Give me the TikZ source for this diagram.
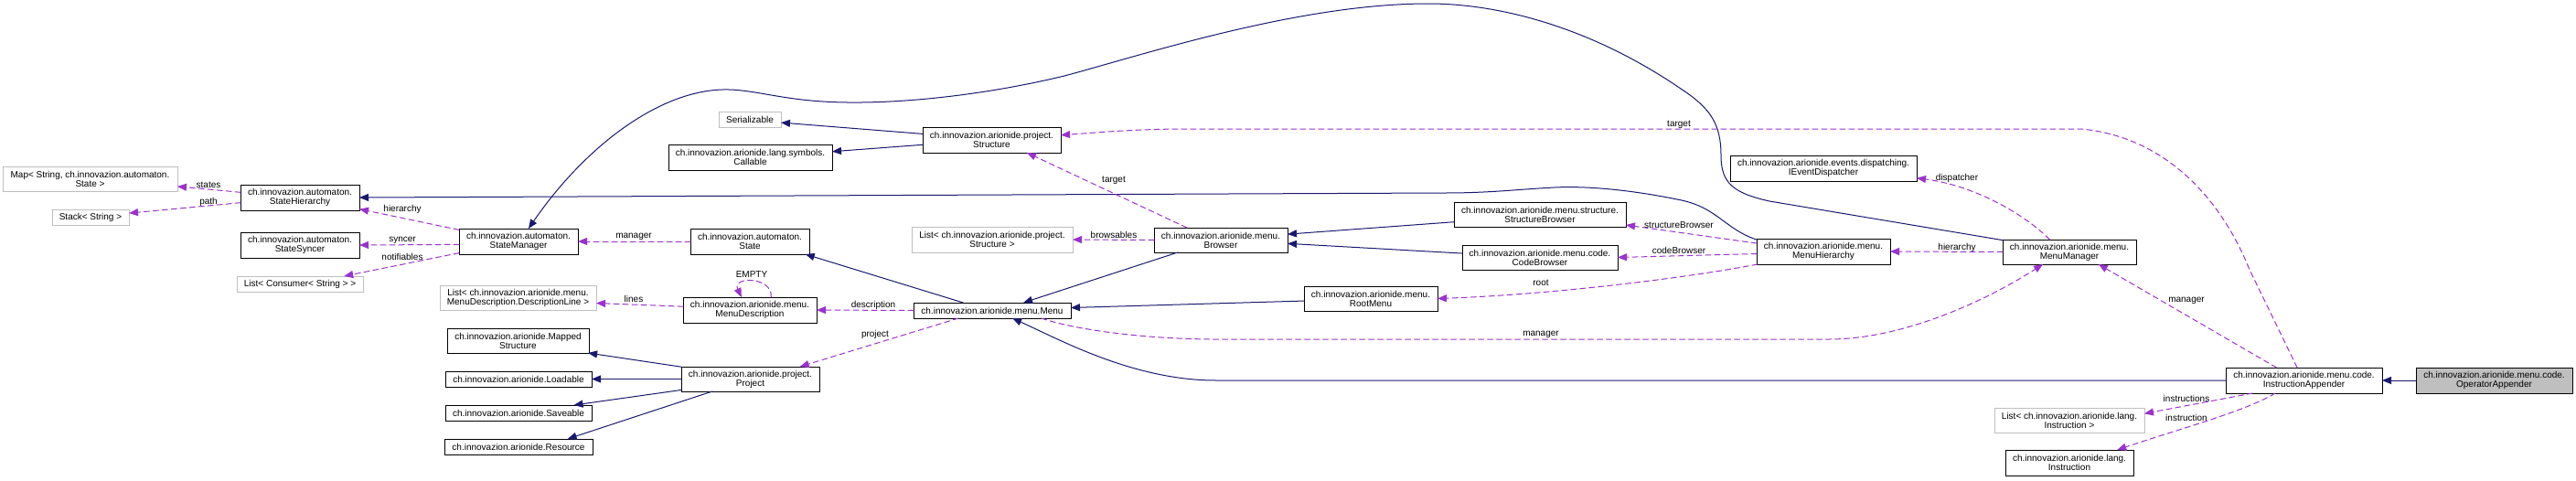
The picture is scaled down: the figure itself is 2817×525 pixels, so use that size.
\documentclass[tikz,border=0pt]{standalone}
\usepackage{fontspec}
\setmainfont{Liberation Sans}
\usepackage{tikz}
\usetikzlibrary{arrows.meta}
\usepackage{xcolor}
\definecolor{edgeblue}{HTML}{191970}
\definecolor{edgepurple}{HTML}{9A32CD}
\definecolor{boxgray}{HTML}{BFBFBF}

\begin{document}
\begin{tikzpicture}[x=0.5pt,y=-0.5pt,>={Triangle[length=5pt,width=4pt]},font=\fontsize{5}{5}\selectfont,line cap=round,
  cls/.style={draw=black,line width=0.5pt,fill=white,align=center,inner sep=0pt,outer sep=0pt},
  extcls/.style={cls,draw=boxgray},
  inh/.style={->,draw=edgeblue,line width=0.5pt},
  dep/.style={->,draw=edgepurple,line width=0.5pt,dash pattern=on 3pt off 2pt},
  lbl/.style={inner sep=0pt,text=black}]
\useasboundingbox (0,0) rectangle (2817,525);
\node[extcls,minimum width=95.5pt,minimum height=13.5pt] (map) at (98.5,195.5) {Map< String, ch.innovazion.automaton.\\State >};
\node[extcls,minimum width=42pt,minimum height=8.5pt] (stack) at (99,237.5) {Stack< String >};
\node[cls,minimum width=65pt,minimum height=14pt] (sh) at (328,216) {ch.innovazion.automaton.\\StateHierarchy};
\node[cls,minimum width=65pt,minimum height=14pt] (syncer) at (328,268) {ch.innovazion.automaton.\\StateSyncer};
\node[extcls,minimum width=69pt,minimum height=8.5pt] (consumers) at (328,310.5) {List< Consumer< String > >};
\node[cls,minimum width=65pt,minimum height=14pt] (sm) at (567,264) {ch.innovazion.automaton.\\StateManager};
\node[cls,minimum width=65pt,minimum height=14pt] (state) at (820,264) {ch.innovazion.automaton.\\State};
\node[cls,minimum width=89.5pt,minimum height=14pt] (callable) at (820.5,172) {ch.innovazion.arionide.lang.symbols.\\Callable};
\node[extcls,minimum width=34pt,minimum height=8.5pt] (serial) at (820,130.5) {Serializable};
\node[extcls,minimum width=85.5pt,minimum height=13.5pt] (lines) at (566.5,325.5) {List< ch.innovazion.arionide.menu.\\MenuDescription.DescriptionLine >};
\node[cls,minimum width=73pt,minimum height=14pt] (mdesc) at (820,339) {ch.innovazion.arionide.menu.\\MenuDescription};
\node[cls,minimum width=77.5pt,minimum height=13.5pt] (mapped) at (566.5,372.5) {ch.innovazion.arionide.Mapped\\Structure};
\node[cls,minimum width=80pt,minimum height=8.5pt] (loadable) at (567,414.5) {ch.innovazion.arionide.Loadable};
\node[cls,minimum width=80pt,minimum height=8.5pt] (saveable) at (567,451.5) {ch.innovazion.arionide.Saveable};
\node[cls,minimum width=81pt,minimum height=8.5pt] (resource) at (567,488.5) {ch.innovazion.arionide.Resource};
\node[cls,minimum width=75.5pt,minimum height=13.5pt] (project) at (820.5,414.5) {ch.innovazion.arionide.project.\\Project};
\node[cls,minimum width=75.5pt,minimum height=14pt] (structure) at (1084.5,153) {ch.innovazion.arionide.project.\\Structure};
\node[extcls,minimum width=88pt,minimum height=14pt] (structs) at (1085,262) {List< ch.innovazion.arionide.project.\\Structure >};
\node[cls,minimum width=86pt,minimum height=8.5pt] (menu) at (1085,339.5) {ch.innovazion.arionide.menu.Menu};
\node[cls,minimum width=73pt,minimum height=13.5pt] (browser) at (1335,262.5) {ch.innovazion.arionide.menu.\\Browser};
\node[cls,minimum width=73pt,minimum height=13.5pt] (rootmenu) at (1499,326.5) {ch.innovazion.arionide.menu.\\RootMenu};
\node[cls,minimum width=94pt,minimum height=13.5pt] (sbrowser) at (1684,234.5) {ch.innovazion.arionide.menu.structure.\\StructureBrowser};
\node[cls,minimum width=85pt,minimum height=13.5pt] (cbrowser) at (1684,281.5) {ch.innovazion.arionide.menu.code.\\CodeBrowser};
\node[cls,minimum width=73pt,minimum height=14pt] (mhier) at (1994,275) {ch.innovazion.arionide.menu.\\MenuHierarchy};
\node[cls,minimum width=102pt,minimum height=14pt] (dispatcher) at (1994,184) {ch.innovazion.arionide.events.dispatching.\\IEventDispatcher};
\node[cls,minimum width=73pt,minimum height=13.5pt] (mmanager) at (2263,275.5) {ch.innovazion.arionide.menu.\\MenuManager};
\node[extcls,minimum width=82pt,minimum height=13.5pt] (instrs) at (2263,459.5) {List< ch.innovazion.arionide.lang.\\Instruction >};
\node[cls,minimum width=70pt,minimum height=14pt] (instr) at (2263,506) {ch.innovazion.arionide.lang.\\Instruction};
\node[cls,minimum width=85.5pt,minimum height=14pt] (iappender) at (2519.5,416) {ch.innovazion.arionide.menu.code.\\InstructionAppender};
\node[cls,fill=boxgray,minimum width=85.5pt,minimum height=14pt] (opappender) at (2727.5,416) {ch.innovazion.arionide.menu.code.\\OperatorAppender};
\draw[inh] (opappender.west) -- (iappender.east);
\draw[inh] (iappender.west) -- (1330,416) .. controls (1240,416) and (1160,372) .. (menu.-21);
\draw[inh] (menu.165) -- (state.-13);
\draw[inh] (browser.196) -- (menu.14);
\draw[inh] (sbrowser.185) -- (browser.5);
\draw[inh] (cbrowser.177) -- (browser.-3);
\draw[inh] (rootmenu.182) -- (menu.2);
\draw[inh] (structure.175) -- (serial.-6);
\draw[inh] (structure.184) -- (callable.4);
\draw[inh] (project.170) -- (mapped.-10);
\draw[inh] (project.west) -- (loadable.east);
\draw[inh] (project.189) -- (saveable.8);
\draw[inh] (project.198) -- (resource.9);
\draw[inh] (mhier.170) .. controls (1885,250) and (1878,226) .. (1834,218) .. controls (1790,209) and (1740,203) .. (1700,205) .. controls (1660,207) and (1630,211) .. (1580,211) -- (sh.east);
\draw[inh] (mmanager.170) -- (1935,220) .. controls (1895,211) and (1882,200) .. (1882,170) .. controls (1882,135) and (1870,118) .. (1838,97) .. controls (1740,30) and (1640,4) .. (1562,4) .. controls (1420,4) and (1250,60) .. (1164,83) .. controls (1060,108) and (960,115) .. (900,111) .. controls (850,108) and (820,97) .. (790,98) .. controls (720,100) and (640,160) .. (sm.52);
\draw[dep] (sh.175) -- (map.-5) node[lbl] at (228,202) {states};
\draw[dep] (sh.185) -- (stack.6) node[lbl] at (228,221) {path};
\draw[dep] (sm.169) -- (sh.-11) node[lbl] at (440,229) {hierarchy};
\draw[dep] (sm.183) -- (syncer.east) node[lbl] at (440,263) {syncer};
\draw[dep] (sm.191) -- (consumers.10) node[lbl] at (440,281) {notifiables};
\draw[dep] (state.west) -- (sm.east) node[lbl] at (693,259) {manager};
\draw[dep] (mdesc.31) .. controls (845,302) and (800,302) .. (mdesc.123) node[lbl] at (822,300) {EMPTY};
\draw[dep] (mdesc.177) -- (lines.-4) node[lbl] at (693,327) {lines};
\draw[dep] (menu.west) -- (mdesc.east) node[lbl] at (955,334) {description};
\draw[dep] (menu.-167) -- (project.14) node[lbl] at (957,366) {project};
\draw[dep] (browser.160) -- (structure.-20) node[lbl] at (1218,197) {target};
\draw[dep] (browser.west) -- (structs.east) node[lbl] at (1218,257) {browsables};
\draw[dep] (mhier.173) -- (sbrowser.-7) node[lbl] at (1836,246) {structureBrowser};
\draw[dep] (mhier.182) -- (cbrowser.east) node[lbl] at (1836,274) {codeBrowser};
\draw[dep] (mhier.191) .. controls (1850,303) and (1700,322) .. (rootmenu.east) node[lbl] at (1685,309) {root};
\draw[dep] (mmanager.west) -- (mhier.east) node[lbl] at (2140,271) {hierarchy};
\draw[dep] (mmanager.148) .. controls (2215,235) and (2160,203) .. (dispatcher.-6) node[lbl] at (2140,195) {dispatcher};
\draw[dep] (menu.-9) .. controls (1180,362) and (1260,371) .. (1330,371) -- (2000,371) .. controls (2080,371) and (2170,330) .. (mmanager.205) node[lbl] at (1685,366) {manager};
\draw[dep] (iappender.155) -- (mmanager.-23) node[lbl] at (2391,329) {manager};
\draw[dep] (iappender.118) -- (2460,295) .. controls (2430,220) and (2370,150) .. (2276,141) -- (1300,141) .. controls (1240,141) and (1200,145) .. (structure.4) node[lbl] at (1836,136) {target};
\draw[dep] (iappender.194) -- (instrs.5) node[lbl] at (2391,436) {instructions};
\draw[dep] (iappender.204) .. controls (2455,450) and (2380,470) .. (instr.15) node[lbl] at (2391,457) {instruction};
\end{tikzpicture}
\end{document}
